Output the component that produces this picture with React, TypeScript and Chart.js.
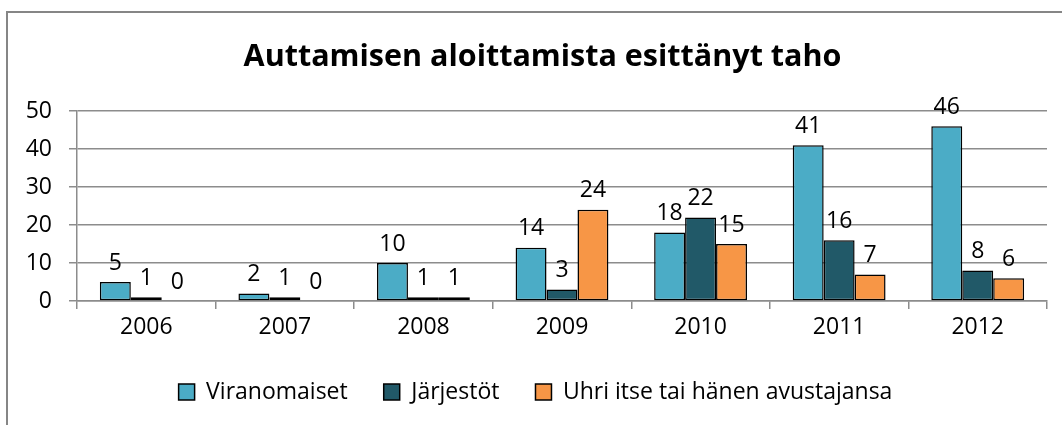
import React, { useEffect, useRef } from "react";
import { Chart, registerables } from "chart.js";

Chart.register(...registerables);

const titleText = "Auttamisen aloittamista esittänyt taho";
const categories = ["2006", "2007", "2008", "2009", "2010", "2011", "2012"];
const seriesNames = ["Viranomaiset", "Järjestöt", "Uhri itse tai hänen avustajansa"];
const viranomaiset = [5, 2, 10, 14, 18, 41, 46];
const jarjestot = [1, 1, 1, 3, 22, 16, 8];
const uhri = [0, 0, 1, 24, 15, 7, 6];
const yMin = 0;
const yMax = 50;
const yStep = 10;

const FONT = '"Open Sans", "Noto Sans", sans-serif';
const GRID = "#8c8c8c";
const colors = ["#4BACC6", "#215968", "#F79646"];

const frame = {
  id: "frame",
  beforeDraw(chart: any) {
    const ctx = chart.ctx;
    ctx.save();
    ctx.strokeStyle = "#868686";
    ctx.lineWidth = 2;
    ctx.strokeRect(7, 12, 1200, 600);
    ctx.restore();
  },
};

const shiftTitle = {
  id: "shiftTitle",
  afterLayout(chart: any) {
    const t = chart.titleBlock;
    if (t) {
      t.left += 7;
      t.right += 7;
    }
  },
};

const dataLabels = {
  id: "dataLabels",
  afterDatasetsDraw(chart: any) {
    const ctx = chart.ctx;
    ctx.save();
    ctx.font = `23px ${FONT}`;
    ctx.fillStyle = "#000";
    ctx.textAlign = "center";
    ctx.textBaseline = "middle";
    chart.data.datasets.forEach((ds: any, di: number) => {
      const meta = chart.getDatasetMeta(di);
      meta.data.forEach((el: any, i: number) => {
        ctx.fillText(String(ds.data[i]), el.x, el.y - 19);
      });
    });
    ctx.restore();
  },
};

export default function App() {
  const ref = useRef<HTMLCanvasElement | null>(null);
  useEffect(() => {
    if (!ref.current) return;
    const series = [viranomaiset, jarjestot, uhri];
    const chart = new Chart(ref.current, {
      type: "bar",
      data: {
        labels: categories,
        datasets: series.map((d, i) => ({
          label: seriesNames[i],
          data: d,
          backgroundColor: colors[i],
          borderColor: "#000",
          borderWidth: (c: any) => (c.raw === 0 ? 0 : 1.5),
          borderSkipped: false,
          categoryPercentage: 0.67,
          barPercentage: 1.0,
        })),
      },
      options: {
        responsive: false,
        animation: false,
        devicePixelRatio: 1,
        layout: { padding: { left: 24, right: 15, top: 0, bottom: 11.5 } },
        plugins: {
          title: {
            display: true,
            text: titleText,
            color: "#000",
            font: { family: FONT, size: 30.5, weight: "bold" },
            padding: { top: 39, bottom: 35.4 },
          },
          legend: {
            position: "bottom",
            labels: {
              color: "#000",
              font: { family: FONT, size: 23 },
              boxWidth: 16,
              boxHeight: 16,
              padding: 36,
              generateLabels: (c: any) =>
                (Chart.defaults.plugins.legend.labels.generateLabels as any)(c).map((it: any) => ({
                  ...it,
                  strokeStyle: "#000",
                  lineWidth: 1.5,
                })),
            },
          },
          tooltip: { enabled: false },
        },
        scales: {
          x: {
            afterFit: (s: any) => {
              s.height = 425 - 11.5 - 33 - 36 - 301;
            },
            grid: {
              display: true,
              drawOnChartArea: false,
              drawTicks: true,
              tickLength: 8,
              color: GRID,
              lineWidth: 1.5,
              offset: true,
            },
            border: { display: true, color: GRID, width: 1.5 },
            ticks: { color: "#000", font: { family: FONT, size: 23 }, padding: 5 },
          },
          y: {
            min: yMin,
            max: yMax,
            afterFit: (s: any) => {
              s.width = 53;
            },
            grid: { color: GRID, lineWidth: 1.5, tickLength: 8, drawTicks: true },
            border: { display: true, color: GRID, width: 1.5 },
            ticks: {
              stepSize: yStep,
              color: "#000",
              font: { family: FONT, size: 23 },
              padding: 17,
            },
          },
        },
      },
      plugins: [frame, shiftTitle, dataLabels],
    });
    return () => chart.destroy();
  }, []);
  return (
    <div style={{ position: "absolute", left: 0, top: 0, width: 1062, height: 425 }}>
      <canvas ref={ref} width={1062} height={425} style={{ display: "block" }} />
    </div>
  );
}
